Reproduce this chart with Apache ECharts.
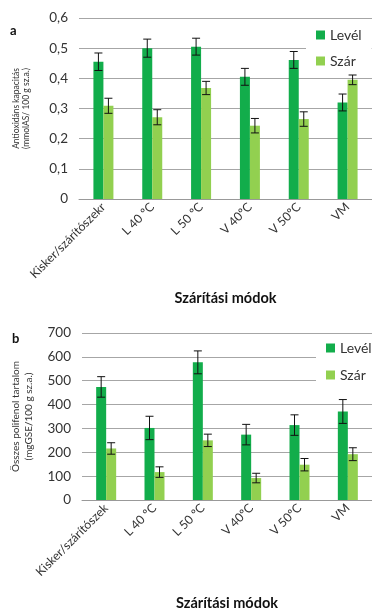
<!DOCTYPE html>
<html><head><meta charset="utf-8">
<script src="https://cdn.jsdelivr.net/npm/echarts@6/dist/echarts.min.js"></script>
<style>html,body{margin:0;padding:0;background:#fff}#c{width:372px;height:612px}</style>
</head><body><div id="c"></div>
<script>
const catsA = ['Kisker/szárítószekr','L 40 ºC','L 50 ºC','V 40ºC','V 50ºC','VM'];
const catsB = ['Kisker/szárítószek','L 40 ºC','L 50 ºC','V 40ºC','V 50ºC','VM'];
const levelA = [0.455, 0.500, 0.505, 0.405, 0.461, 0.320];
const levelAErr = [0.029, 0.030, 0.028, 0.028, 0.028, 0.028];
const szarA = [0.309, 0.271, 0.368, 0.243, 0.265, 0.395];
const szarAErr = [0.025, 0.025, 0.022, 0.024, 0.024, 0.016];
const levelB = [474, 302, 577, 274, 314, 371];
const levelBErr = [43, 49, 48, 43, 43, 50];
const szarB = [216, 117, 250, 92, 148, 192];
const szarBErr = [24, 22, 26, 20, 26, 27];
const yTicksA = [0, 0.1, 0.2, 0.3, 0.4, 0.5, 0.6];
const yTicksB = [0, 100, 200, 300, 400, 500, 600, 700];

const C_LEV = '#12ad4b', C_SZ = '#92d050';
const FONT = 'Lato';
const chart = echarts.init(document.getElementById('c'));

function errSeries(name, xi, yi, vals, errs, offset) {
  return {
    type: 'custom', name: name, xAxisIndex: xi, yAxisIndex: yi, z: 10,
    silent: true,
    data: vals.map((v, i) => [i, v, errs[i]]),
    renderItem: function (params, api) {
      const i = api.value(0), v = api.value(1), e = api.value(2);
      const top = api.coord([i, v + e]);
      const bot = api.coord([i, v - e]);
      const x = top[0] + offset;
      const hw = 4;
      const st = { stroke: '#111', lineWidth: 1 };
      return { type: 'group', children: [
        { type: 'line', shape: { x1: x, y1: top[1], x2: x, y2: bot[1] }, style: st },
        { type: 'line', shape: { x1: x - hw, y1: top[1], x2: x + hw, y2: top[1] }, style: st },
        { type: 'line', shape: { x1: x - hw, y1: bot[1], x2: x + hw, y2: bot[1] }, style: st }
      ]};
    }
  };
}

function xAx(cats, gi, gap) {
  return {
    type: 'category', data: cats, gridIndex: gi,
    axisLine: { lineStyle: { color: '#999' } },
    axisTick: { show: false },
    axisLabel: { rotate: 45, fontFamily: FONT, fontSize: 12.2, color: '#333', margin: 6, interval: 0 },
    name: 'Szárítási módok', nameLocation: 'middle', nameGap: gap,
    nameTextStyle: { fontFamily: FONT, fontSize: 14.5, fontWeight: 'bold', color: '#111' }
  };
}
function yAx(gi, max, interval, name, dec, nfs, ngap, lh) {
  return {
    type: 'value', gridIndex: gi, min: 0, max: max, interval: interval,
    axisLine: { show: false }, axisTick: { show: false },
    splitLine: { lineStyle: { color: '#a6a6a6' } },
    axisLabel: { fontFamily: FONT, fontSize: 13.5, color: '#333', margin: 11,
      formatter: v => dec ? v.toFixed(1).replace('.', ',').replace(/^0,0$/, '0') : String(v) },
    name: name, nameLocation: 'middle', nameGap: ngap,
    nameTextStyle: { fontFamily: FONT, fontSize: nfs, color: '#333', lineHeight: lh }
  };
}
function bar(name, xi, yi, data, color) {
  return { type: 'bar', name: name, xAxisIndex: xi, yAxisIndex: yi, data: data,
    barWidth: 10, barGap: '0%', itemStyle: { color: color } };
}

chart.setOption({
  animation: false,
  grid: [
    { left: 79, right: -3, top: 18, height: 181 },
    { left: 82, right: -4, top: 333, height: 174.5 }
  ],
  xAxis: [xAx(catsA, 0, 92), xAx(catsB, 1, 96)],
  yAxis: [
    yAx(0, yTicksA[yTicksA.length - 1], yTicksA[1] - yTicksA[0], 'Antioxidáns kapacitás\n(mmolAS/ 100 g sz.a.)', true, 8.5, 47, 10.5),
    yAx(1, yTicksB[yTicksB.length - 1], yTicksB[1] - yTicksB[0], 'Összes polifenol tartalom\n(mgGSE/100 g sz.a.)', false, 10, 47, 13)
  ],
  legend: [
    { data: ['Levél', 'Szár'], orient: 'vertical', left: 306, top: 24, itemWidth: 9, itemHeight: 9,
      itemGap: 12, backgroundColor: '#fff', padding: [4, 10, 4, 10],
      textStyle: { fontFamily: FONT, fontSize: 14, color: '#333' }, icon: 'rect' },
    { data: ['Levél', 'Szár'], orient: 'vertical', left: 316, top: 337, itemWidth: 9, itemHeight: 9,
      itemGap: 13, backgroundColor: '#fff', padding: [4, 10, 4, 10],
      textStyle: { fontFamily: FONT, fontSize: 14, color: '#333' }, icon: 'rect' }
  ],
  graphic: [
    { type: 'text', left: 10, top: 24, style: { text: 'a', font: 'bold 13px Lato', fill: '#111' } },
    { type: 'text', left: 12, top: 332, style: { text: 'b', font: 'bold 13px Lato', fill: '#111' } }
  ],
  series: [
    bar('Levél', 0, 0, levelA, C_LEV),
    bar('Szár', 0, 0, szarA, C_SZ),
    bar('Levél', 1, 1, levelB, C_LEV),
    bar('Szár', 1, 1, szarB, C_SZ),
    errSeries('errLA', 0, 0, levelA, levelAErr, -5),
    errSeries('errSA', 0, 0, szarA, szarAErr, 5),
    errSeries('errLB', 1, 1, levelB, levelBErr, -5),
    errSeries('errSB', 1, 1, szarB, szarBErr, 5)
  ]
});
</script>
</body></html>
